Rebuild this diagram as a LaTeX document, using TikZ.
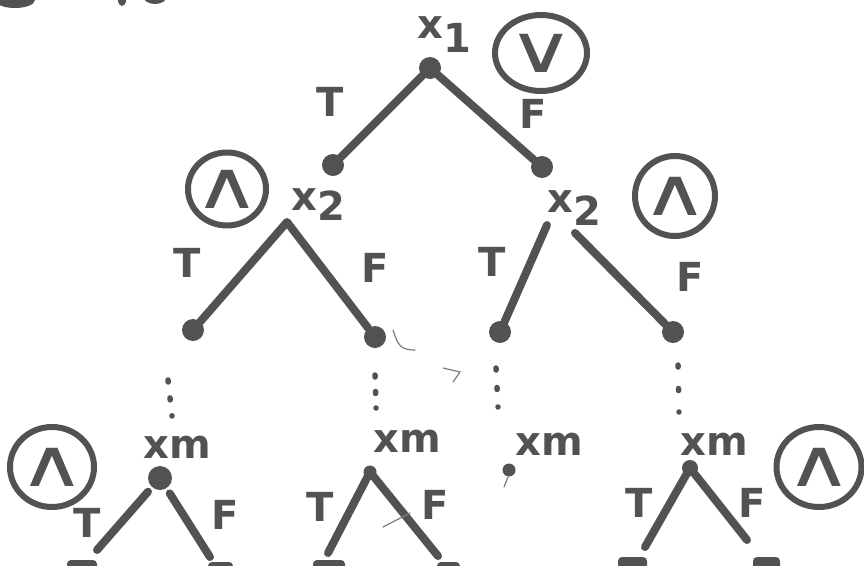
\documentclass[tikz,border=0pt]{standalone}
\usepackage{fontspec}
\setmainfont{DejaVu Sans}
\usetikzlibrary{shapes.geometric}
\definecolor{ink}{RGB}{82,82,82}
\definecolor{faint}{RGB}{125,125,125}
\newcommand{\wideop}[1]{\makebox[0pt]{\scalebox{1.4}[1]{#1}}}
\begin{document}
\begin{tikzpicture}[x=1pt,y=-1pt,
  edge/.style={draw=ink,line width=8pt,line cap=round,line join=round},
  leader/.style={draw=ink,line width=5.5pt,line cap=round,dash pattern=on 2pt off #1},
  leader/.default=16pt,
  dot/.style={circle,fill=ink,inner sep=0pt,minimum size=#1},
  dot/.default=22pt,
  lbl/.style={text=ink,font=\bfseries\fontsize{40}{40}\selectfont,inner sep=0pt},
  opcirc/.style={ellipse,draw=ink,line width=6pt,inner sep=0pt,text=ink,font=\mdseries\fontsize{66}{66}\selectfont},
  scrap/.style={draw=faint,line width=1.2pt,line cap=round},
  cut/.style={fill=ink}
]
\useasboundingbox (0,0) rectangle (864,565);
\clip (0,0) rectangle (864,565);
\fill[white] (0,0) rectangle (864,565);

% cut-off marks at the top edge
\fill[cut] (15,0) ellipse [x radius=20pt, y radius=8pt];
\fill[cut] (122,0) ellipse [x radius=4pt, y radius=6pt];
\fill[cut] (155,-4) ellipse [x radius=12pt, y radius=8pt];

% root x1
\node[dot] (r) at (430,68) {};
\node[lbl,anchor=base west] (lr) at (417,38) {x\raisebox{-14pt}{1}};
\node[opcirc,minimum width=92pt,minimum height=76pt] (or) at (541,53) {\wideop{∨}};
\node[lbl] (tr) at (330,102) {T};
\node[lbl] (fr) at (533,114) {F};
\node[dot] (a) at (333,165) {};
\node[dot] (b) at (542,167) {};
\draw[edge] (r) -- (a);
\draw[edge] (r) -- (b);

% left x2
\node[lbl,anchor=base west] (la) at (291,210) {x\raisebox{-10pt}{2}};
\node[opcirc,minimum width=78pt,minimum height=73pt] (oa) at (227,189) {\wideop{∧}};
\coordinate (ap) at (287,222);
\node[dot] (aa) at (193,330) {};
\node[dot] (ab) at (375,337) {};
\draw[edge] (aa) -- (ap) -- (ab);
\node[lbl] (ta) at (187,263) {T};
\node[lbl] (fa) at (375,268) {F};

% right x2
\node[lbl,anchor=base west] (lb) at (547,212) {x\raisebox{-13pt}{2}};
\node[opcirc,minimum width=80pt,minimum height=80pt] (ob) at (675,196) {\wideop{∧}};
\coordinate (bl) at (547,225);
\coordinate (bri) at (575,233);
\node[dot] (ba) at (500,332) {};
\node[dot] (bb) at (673,332) {};
\draw[edge] (bl) -- (ba);
\draw[edge] (bri) -- (bb);
\node[lbl] (tb) at (492,262) {T};
\node[lbl] (fb) at (690,277) {F};

% dotted leaders
\coordinate (s1) at (168,380); \coordinate (e1) at (172,416);
\coordinate (s2) at (375,375); \coordinate (e2) at (376,408);
\coordinate (s3) at (496,368); \coordinate (e3) at (498,407);
\coordinate (s4) at (678,365); \coordinate (e4) at (679,412);
\draw[leader=16pt] (s1) -- (e1);
\draw[leader=14.5pt] (s2) -- (e2);
\draw[leader=17.5pt] (s3) -- (e3);
\draw[leader=21.5pt] (s4) -- (e4);

% xm subtree 1
\node[lbl,anchor=base west] (l1) at (143,458) {xm};
\node[opcirc,minimum width=84pt,minimum height=80pt] (o1) at (52,467) {\wideop{∧}};
\node[dot=24pt] (m1) at (160,478) {};
\coordinate (c1l) at (97,550);
\coordinate (c1r) at (210,557);
\draw[edge,shorten <=6pt] (m1) -- (c1l);
\draw[edge,shorten <=6pt] (m1) -- (c1r);
\node[lbl] (t1) at (87,523) {T};
\node[lbl] (f1) at (225,515) {F};

% xm subtree 2
\node[lbl,anchor=base west] (l2) at (373,452) {xm};
\node[dot=13pt] (m2) at (370,472) {};
\coordinate (c2l) at (328,553);
\coordinate (c2r) at (438,556);
\draw[edge] (c2l) -- (m2.center) -- (c2r);
\node[lbl] (t2) at (320,507) {T};
\node[lbl] (f2) at (435,505) {F};

% xm node 3
\node[lbl,anchor=base west] (l3) at (515,455) {xm};
\node[dot=13pt] (m3) at (509,470) {};

% xm subtree 4
\node[lbl,anchor=base west] (l4) at (680,455) {xm};
\node[dot=16pt] (m4) at (690,468) {};
\coordinate (c4l) at (645,547);
\coordinate (c4r) at (747,540);
\draw[edge] (c4l) -- (m4.center) -- (c4r);
\node[opcirc,minimum width=85pt,minimum height=80pt] (o4) at (819,467) {\wideop{∧}};
\node[lbl] (t4) at (639,503) {T};
\node[lbl] (f4) at (752,503) {F};

% stray pencil marks
\draw[scrap] (393,330) .. controls (398,345) and (400,350) .. (415,350);
\draw[scrap] (443,368) -- (460,372) -- (453,382);
\draw[scrap] (383,527) -- (410,513);
\draw[scrap] (508,477) -- (504,487);

% cut-off marks at the bottom edge
\fill[cut,rounded corners=4pt] (67,560) rectangle (97,585);
\fill[cut,rounded corners=4pt] (208,562) rectangle (233,585);
\fill[cut,rounded corners=4pt] (313,560) rectangle (345,585);
\fill[cut,rounded corners=4pt] (437,562) rectangle (460,585);
\fill[cut,rounded corners=4pt] (618,557) rectangle (647,585);
\fill[cut,rounded corners=4pt] (753,557) rectangle (780,585);
\end{tikzpicture}
\end{document}
